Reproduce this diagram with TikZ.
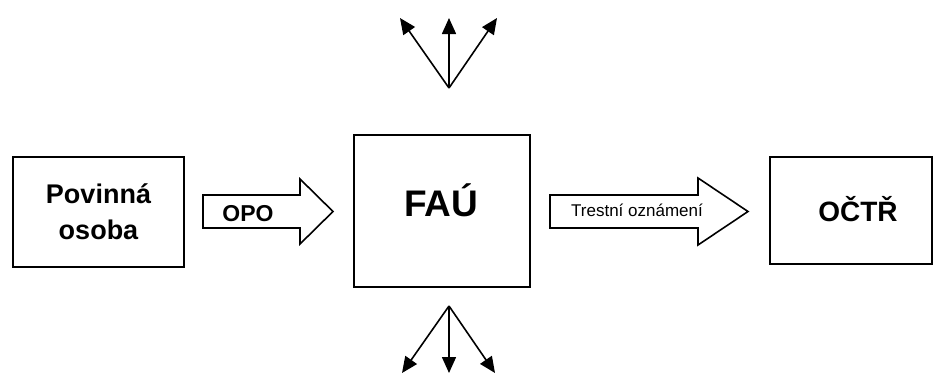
\documentclass[tikz,border=0pt]{standalone}
\usepackage{fontspec}
\setmainfont{Liberation Sans}
\usetikzlibrary{arrows.meta}

\tikzset{
  box/.style={draw, line width=1.8pt, inner sep=0pt},
  blockarrow/.style={draw, line width=1.6pt, line join=miter},
  ray/.style={line width=1.6pt, -{Triangle[length=16pt,width=14pt]}},
  boxtitle/.style={anchor=base, inner sep=0pt, font=\bfseries\fontsize{#1}{#1}\selectfont},
}

\begin{document}
\begin{tikzpicture}[x=1pt,y=-1pt]
	\useasboundingbox (0,0) rectangle (934,375);

	% boxes
	\node[box, minimum width=171pt, minimum height=110pt, align=center,
		font=\bfseries\fontsize{27}{36}\selectfont] (osoba) at (98.5,212) {Povinná\\osoba};
	\node[box, minimum width=176pt, minimum height=152pt] (fau) at (442,211) {};
	\node[boxtitle=37] (faulabel) at (441,216.7) {FAÚ};
	\node[box, minimum width=162pt, minimum height=107pt] (octr) at (851,210.5) {};
	\node[boxtitle=28] (octrlabel) at (858,221.7) {OČTŘ};

	% block arrows
	\draw[blockarrow] (203,195) -- (300,195) -- (300,179) -- (333,211.5)
		-- (300,244) -- (300,228) -- (203,228) -- cycle;
	\node[boxtitle=23] (opo) at (248,221.7) {OPO};
	\draw[blockarrow] (550,195) -- (698,195) -- (698,178) -- (748,211.5)
		-- (698,245) -- (698,228) -- (550,228) -- cycle;
	\node[anchor=base, inner sep=0pt, font=\fontsize{17}{17}\selectfont] (oznameni) at (637,216.7) {Trestní oznámení};

	% rays above and below
	\coordinate (top) at (449,88);
	\coordinate (topl) at (400,18);
	\coordinate (topc) at (449,18);
	\coordinate (topr) at (497,18);
	\coordinate (bottom) at (449,306);
	\coordinate (bottoml) at (402,373);
	\coordinate (bottomc) at (449,373);
	\coordinate (bottomr) at (495,373);

	\foreach \tip in {topl, topc, topr}
		\draw[ray] (top) -- (\tip);
	\foreach \tip in {bottoml, bottomc, bottomr}
		\draw[ray] (bottom) -- (\tip);
\end{tikzpicture}
\end{document}
